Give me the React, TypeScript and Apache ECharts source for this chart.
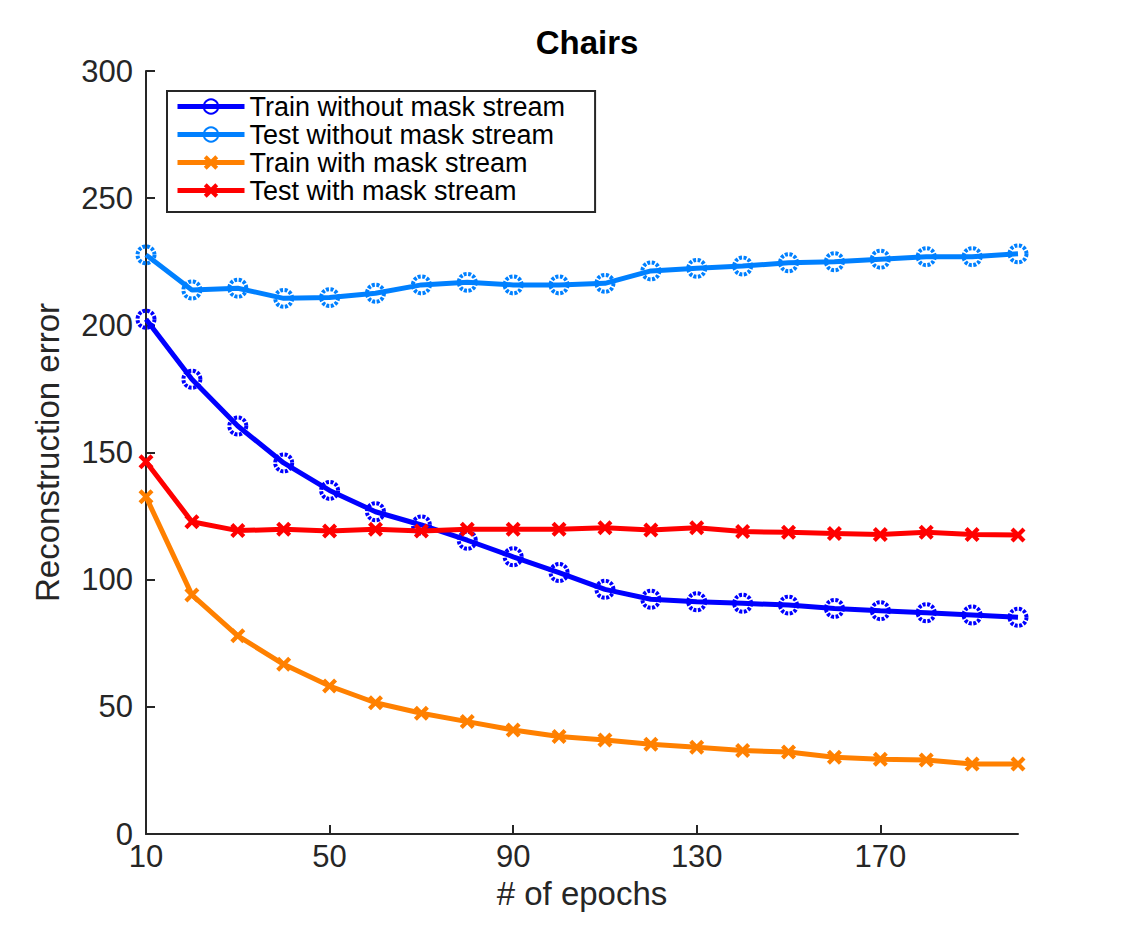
import React, { useEffect, useRef } from "react";
import * as echarts from "echarts";

const epochs = [10, 20, 30, 40, 50, 60, 70, 80, 90, 100, 110, 120, 130, 140, 150, 160, 170, 180, 190, 200];
const trainWithout = [202.4, 178.8, 160.4, 145.9, 135.1, 126.7, 121.5, 115.5, 109.0, 102.8, 96.2, 92.3, 91.3, 90.7, 90.0, 88.7, 87.8, 87.0, 86.1, 85.2];
const testWithout = [227.7, 213.9, 214.6, 210.6, 210.9, 212.6, 215.9, 216.9, 215.9, 215.9, 216.5, 221.4, 222.4, 223.3, 224.6, 225.0, 226.0, 227.0, 227.0, 228.1];
const trainWith = [132.6, 94.0, 77.9, 66.7, 58.2, 51.6, 47.5, 44.2, 40.9, 38.3, 37.0, 35.3, 34.1, 32.8, 32.2, 30.2, 29.4, 29.1, 27.5, 27.5];
const testWith = [146.4, 122.8, 119.3, 119.8, 119.1, 119.8, 119.1, 119.8, 119.8, 119.8, 120.4, 119.5, 120.4, 118.9, 118.6, 118.2, 117.8, 118.6, 117.8, 117.6];
const seriesNames = ["Train without mask stream", "Test without mask stream", "Train with mask stream", "Test with mask stream"];
const colors = ["#0000ff", "#0080ff", "#ff8000", "#ff0000"];

const CROSS = "path://M2,0 L5,3 L8,0 L10,2 L7,5 L10,8 L8,10 L5,7 L2,10 L0,8 L3,5 L0,2 Z";
const FONT = "'Liberation Sans', Arial, Helvetica, sans-serif";

export default function App() {
  const ref = useRef<HTMLDivElement>(null);
  useEffect(() => {
    if (!ref.current) return;
    const chart = echarts.init(ref.current, undefined, { renderer: "svg" });
    const all = [trainWithout, testWithout, trainWith, testWith];
    const series = all.map((vals, i) => {
      const circle = i < 2;
      return {
        name: seriesNames[i],
        type: "line",
        data: epochs.map((e, j) => [e, vals[j]]),
        symbol: circle ? "circle" : CROSS,
        symbolSize: circle ? 17 : 15,
        showSymbol: true,
        lineStyle: { color: colors[i], width: 5 },
        itemStyle: circle
          ? { color: "rgba(255,255,255,0)", borderColor: colors[i], borderWidth: 4, borderType: [3, 1.5] }
          : { color: colors[i], borderWidth: 0 },
        z: 2 + i,
      };
    });
    chart.setOption({
      animation: false,
      backgroundColor: "#ffffff",
      textStyle: { fontFamily: FONT },
      title: {
        text: "Chairs",
        left: 582,
        top: 21,
        textAlign: "center",
        textStyle: { fontFamily: FONT, fontWeight: "bold", fontSize: 33, color: "#000" },
      },
      legend: {
        orient: "vertical",
        left: 167,
        top: 91,
        padding: [2, 30, 8, 8],
        borderColor: "#262626",
        borderWidth: 2,
        backgroundColor: "#fff",
        itemWidth: 67,
        itemHeight: 18,
        itemGap: 1,
        lineStyle: { width: 5 },
        textStyle: { fontFamily: FONT, fontSize: 27, color: "#000" },
        data: seriesNames,
      },
      grid: { left: 146, right: 107, top: 71, bottom: 104, containLabel: false },
      xAxis: {
        type: "value",
        min: 10,
        max: 200,
        interval: 40,
        name: "# of epochs",
        nameLocation: "middle",
        nameGap: 38,
        nameTextStyle: { fontFamily: FONT, fontSize: 33, color: "#262626" },
        axisLine: { lineStyle: { color: "#262626", width: 2 } },
        axisTick: { inside: true, length: 9, lineStyle: { color: "#262626", width: 2 } },
        axisLabel: { fontFamily: FONT, fontSize: 31, color: "#262626", margin: 7, showMaxLabel: false },
        splitLine: { show: false },
      },
      yAxis: {
        type: "value",
        min: 0,
        max: 300,
        interval: 50,
        name: "Reconstruction error",
        nameLocation: "middle",
        nameGap: 82,
        nameTextStyle: { fontFamily: FONT, fontSize: 33, color: "#262626" },
        axisLine: { lineStyle: { color: "#262626", width: 2 } },
        axisTick: { inside: true, length: 9, lineStyle: { color: "#262626", width: 2 } },
        axisLabel: { fontFamily: FONT, fontSize: 31, color: "#262626", margin: 13 },
        splitLine: { show: false },
      },
      series,
    });
    return () => chart.dispose();
  }, []);
  return <div ref={ref} style={{ width: 1125, height: 938, position: "absolute", left: 0, top: 0 }} />;
}
